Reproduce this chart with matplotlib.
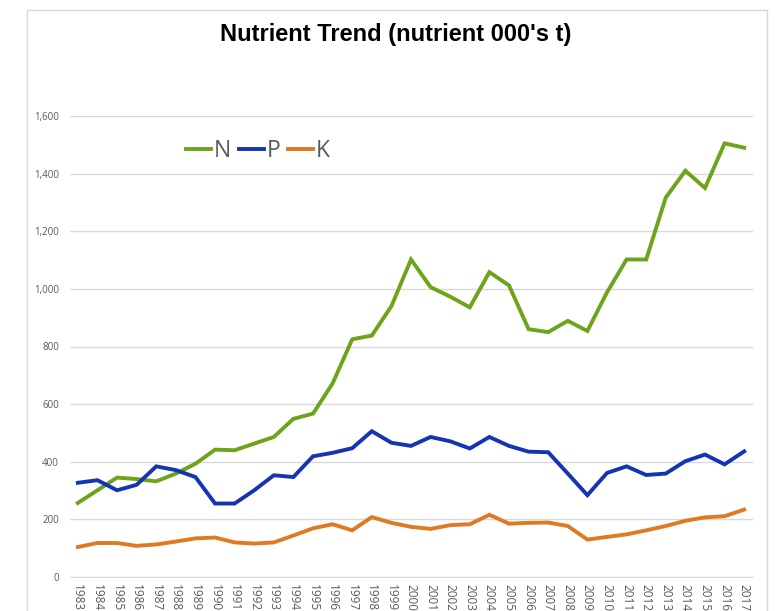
import matplotlib.pyplot as plt
from matplotlib.patches import Rectangle
from matplotlib.lines import Line2D
from matplotlib.ticker import FuncFormatter

YEARS = list(range(1983, 2018))

N_VALUES = [257, 301, 345, 340, 332, 359, 393, 442, 440, 463, 486, 549, 567, 672,
            825, 838, 940, 1102, 1006, 973, 936, 1058, 1012, 860, 850, 889, 854,
            988, 1102, 1102, 1317, 1410, 1350, 1505, 1490]
P_VALUES = [327, 336, 301, 320, 384, 371, 347, 255, 255, 301, 353, 347, 419, 431,
            447, 506, 466, 455, 486, 471, 446, 486, 455, 435, 433, 359, 284,
            361, 384, 354, 359, 402, 425, 391, 436]
K_VALUES = [104, 118, 118, 108, 113, 123, 134, 137, 120, 116, 120, 144, 169, 183,
            162, 208, 188, 174, 167, 180, 183, 216, 185, 188, 189, 177, 130,
            139, 148, 162, 177, 195, 207, 211, 234]

SERIES = [("N", N_VALUES, "#6ea31c"), ("P", P_VALUES, "#1434b4"), ("K", K_VALUES, "#df7a24")]

plt.rcParams["font.family"] = ["Open Sans", "DejaVu Sans"]

fig = plt.figure(figsize=(7.75, 6.11), dpi=100)

# light outer chart frame
fig.patches.append(Rectangle((27 / 775, -0.05), 740 / 775, 1 - 10 / 611 + 0.05,
                             transform=fig.transFigure, fill=False,
                             edgecolor="#d9d9d9", linewidth=1.0))

ax = fig.add_axes([70 / 775, 1 - 577 / 611, (753 - 70) / 775, (577 - 116) / 611])

for name, values, color in SERIES:
    ax.plot(YEARS, values, color=color, linewidth=2.8, solid_joinstyle="miter", label=name)

ax.set_xlim(1982.6, 2017.45)
ax.set_ylim(0, 1600)
ax.set_yticks(range(0, 1601, 200))
ax.yaxis.set_major_formatter(FuncFormatter(lambda v, _: f"{int(v):,}"))
ax.set_xticks(YEARS)
ax.set_xticklabels([str(y) for y in YEARS], rotation=-90, fontsize=8.5, color="#595959")
ax.tick_params(axis="y", labelsize=7, colors="#595959", length=0, pad=8)
ax.tick_params(axis="x", length=0, pad=5)
ax.grid(axis="y", color="#d9d9d9", linewidth=1.0)
ax.set_axisbelow(True)
for side in ["top", "right", "left"]:
    ax.spines[side].set_visible(False)
ax.spines["bottom"].set_color("#d9d9d9")

fig.text(396 / 775, 1 - 34 / 611, "Nutrient Trend (nutrient 000's t)", ha="center", va="center",
         fontsize=17, fontweight="bold", family="Liberation Sans")

handles = [Line2D([], [], color=c, linewidth=2.8) for _, _, c in SERIES]
ax.legend(handles, [s[0] for s in SERIES], loc="center left", bbox_to_anchor=(0.14, 0.925),
          ncol=3, frameon=False, fontsize=16.5, handlelength=1.1, handletextpad=0.1,
          columnspacing=0.35, labelcolor="#595959")

fig.savefig("out.png", dpi=100)
